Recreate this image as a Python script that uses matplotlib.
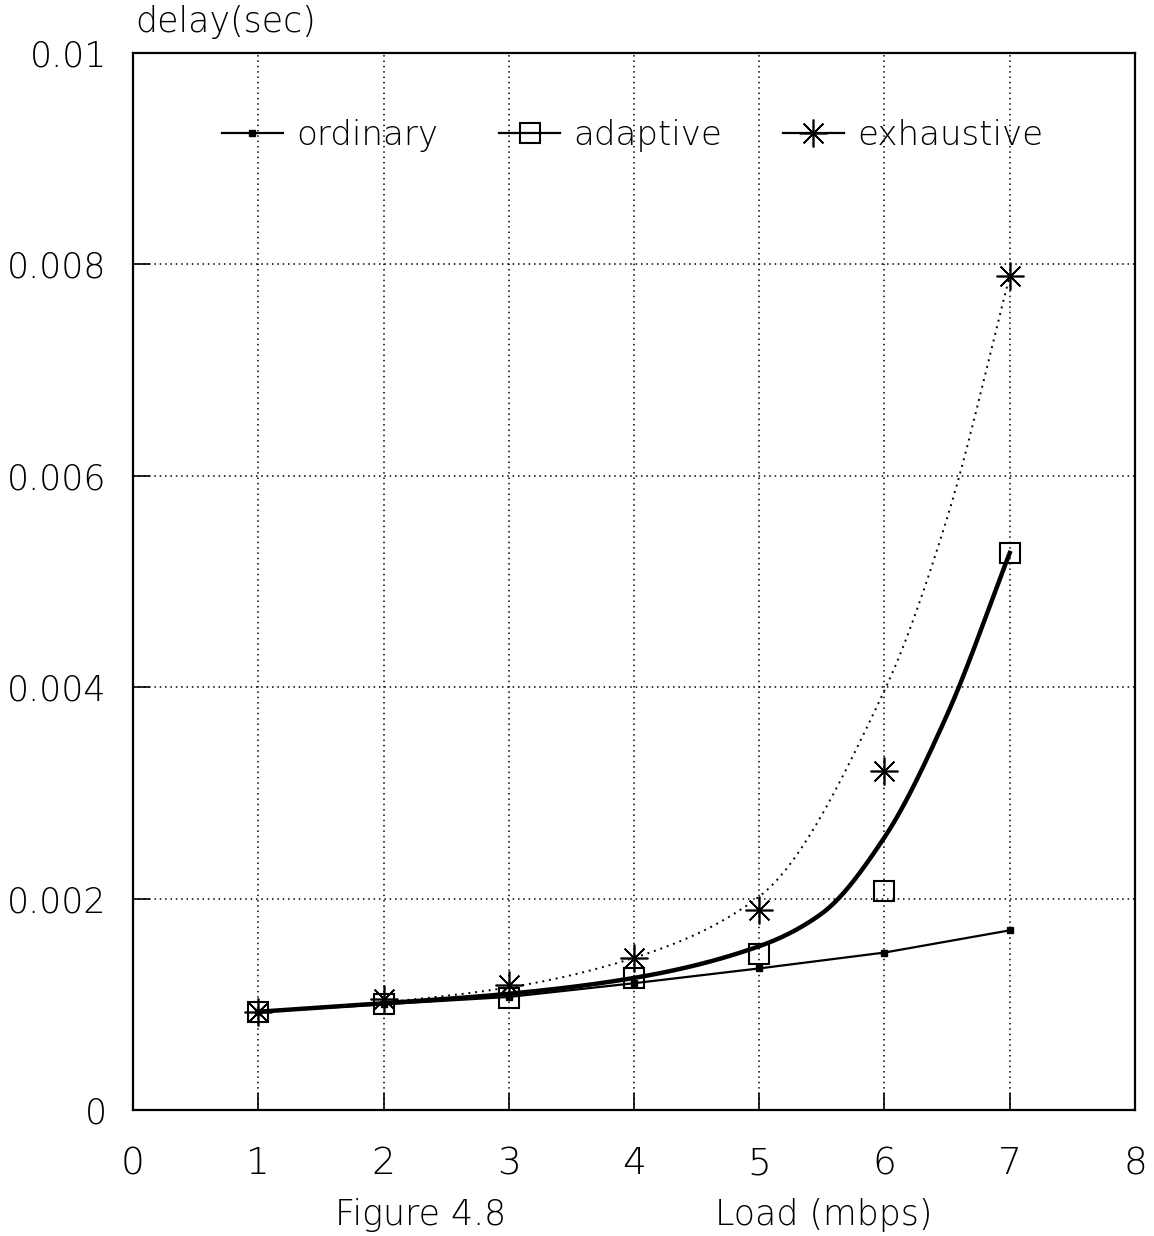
import numpy as np
import matplotlib
matplotlib.use("Agg")
import matplotlib.pyplot as plt
from matplotlib.lines import Line2D

# Datos
carga = [1, 2, 3, 4, 5, 6, 7]
ordinary = [0.00093, 0.00100, 0.00107, 0.00120, 0.00134, 0.00149, 0.00170]
adaptive = [0.00093, 0.00100, 0.00106, 0.00125, 0.00148, 0.00207, 0.00527]
exhaustive = [0.00093, 0.00105, 0.00118, 0.00144, 0.00189, 0.00321, 0.00789]

ajuste_adapt_x = [1, 2, 3, 4, 5, 5.5, 6, 6.5, 7]
ajuste_adapt_y = [0.00093, 0.00101, 0.00110, 0.00125, 0.00155, 0.00186, 0.00258, 0.00374, 0.00527]
ajuste_exh_x = [1, 2, 3, 4, 5, 6, 6.5, 7]
ajuste_exh_y = [0.00093, 0.00102, 0.00116, 0.00144, 0.00202, 0.00397, 0.00560, 0.00789]

x_ticks = [0, 1, 2, 3, 4, 5, 6, 7, 8]
y_ticks = [0, 0.002, 0.004, 0.006, 0.008, 0.01]
y_labels = ["0", "0.002", "0.004", "0.006", "0.008", "0.01"]


def suavizar(xk, yk, n=300):
    """Hermite cubico monotono (tipo pchip) so para desenhar o traco."""
    xk = np.asarray(xk, float)
    yk = np.asarray(yk, float)
    h = np.diff(xk)
    d = np.diff(yk) / h
    m = np.zeros_like(yk)
    m[0], m[-1] = d[0], d[-1]
    for k in range(1, len(xk) - 1):
        if d[k - 1] * d[k] > 0:
            w1 = 2 * h[k] + h[k - 1]
            w2 = h[k] + 2 * h[k - 1]
            m[k] = (w1 + w2) / (w1 / d[k - 1] + w2 / d[k])
    xs = np.linspace(xk[0], xk[-1], n)
    idx = np.clip(np.searchsorted(xk, xs) - 1, 0, len(h) - 1)
    t = (xs - xk[idx]) / h[idx]
    h00 = 2 * t**3 - 3 * t**2 + 1
    h10 = t**3 - 2 * t**2 + t
    h01 = -2 * t**3 + 3 * t**2
    h11 = t**3 - t**2
    ys = (h00 * yk[idx] + h10 * h[idx] * m[idx]
          + h01 * yk[idx + 1] + h11 * h[idx] * m[idx + 1])
    return xs, ys


plt.rcParams['font.family'] = ['DejaVu Sans']
plt.rcParams['font.weight'] = 'light'

fig = plt.figure(figsize=(11.54, 12.36), dpi=100)
ax = fig.add_axes([0.1153, 0.1019, 0.8682, 0.8552])

estrela = (8, 2, 0)

# ordinary: linha fina com quadradinhos cheios
ax.plot(carga, ordinary, color='black', lw=1.6, marker='s', ms=5, zorder=4)

# adaptive: curva grossa + quadrados abertos
xs, ys = suavizar(ajuste_adapt_x, ajuste_adapt_y)
ax.plot(xs, ys, color='black', lw=3.2, zorder=3)
ax.plot(carga, adaptive, ls='none', marker='s', ms=14, mfc='none',
        mec='black', mew=1.5, zorder=5)

# exhaustive: curva pontilhada + asteriscos
xs, ys = suavizar(ajuste_exh_x, ajuste_exh_y)
ax.plot(xs, ys, color='black', lw=1.4, ls=(0, (1, 2.5)), zorder=3)
ax.plot(carga, exhaustive, ls='none', marker=estrela, ms=20, mec='black',
        mew=1.2, zorder=5)

ax.set_xlim(0, 8)
ax.set_ylim(0, 0.01)
ax.set_xticks(x_ticks)
ax.set_xticklabels([str(v) for v in x_ticks])
ax.set_yticks(y_ticks)
ax.set_yticklabels(y_labels)
ax.grid(True, color='black', ls=(0, (1, 2.5)), lw=1.1)
ax.tick_params(axis='both', direction='in', length=12, width=1.2,
               labelsize=25, top=False, right=False)
ax.tick_params(axis='x', labelsize=27, pad=26)
ax.tick_params(axis='y', pad=19)
for s in ax.spines.values():
    s.set_linewidth(1.6)

handles = [
    Line2D([], [], color='black', lw=1.6, marker='s', ms=5),
    Line2D([], [], color='black', lw=1.6, marker='s', ms=14, mfc='none', mew=1.5),
    Line2D([], [], color='black', lw=1.6, marker=estrela, ms=20, mew=1.2),
]
ax.legend(handles, ['ordinary', 'adaptive', 'exhaustive'], ncol=3,
          loc='center left', bbox_to_anchor=(0.058, 0.922), frameon=False,
          fontsize=24.5, handlelength=1.8, handletextpad=0.4, columnspacing=1.77)

fig.text(135 / 1154, 1 - 22 / 1236, 'delay(sec)', fontsize=25, va='center', ha='left')
fig.text(335 / 1154, 1 - 1215 / 1236, 'Figure 4.8', fontsize=25, va='center', ha='left')
fig.text(715 / 1154, 1 - 1215 / 1236, 'Load (mbps)', fontsize=25, va='center', ha='left')

fig.savefig('out.png', dpi=100)
